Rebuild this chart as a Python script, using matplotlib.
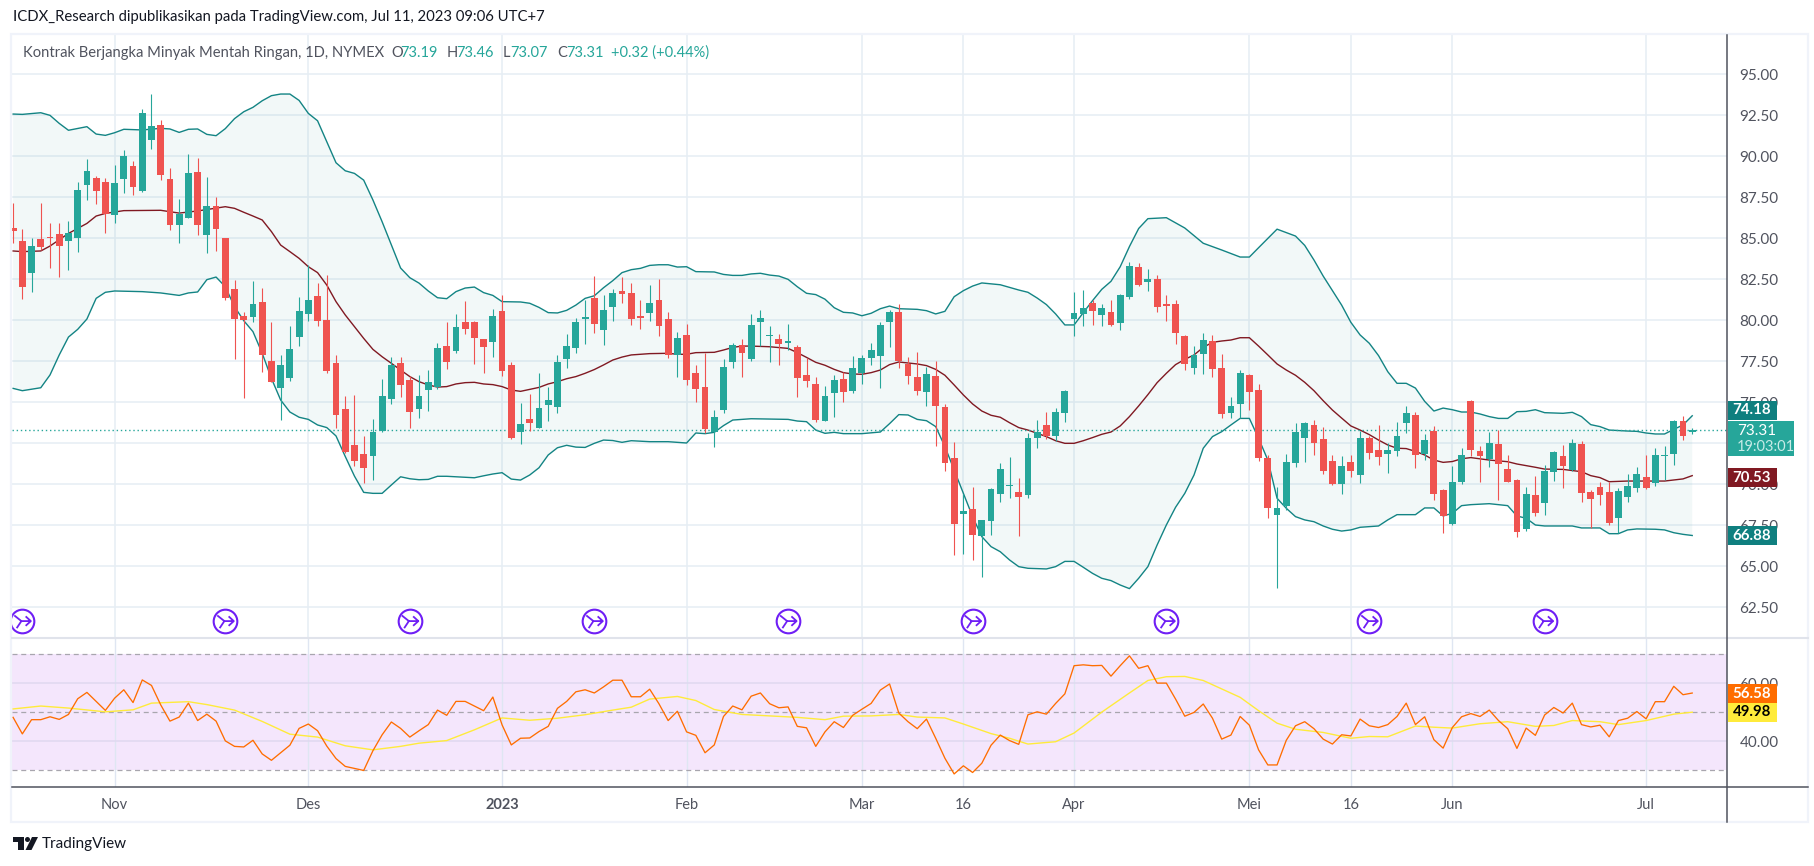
import matplotlib
matplotlib.use('Agg')
import matplotlib.pyplot as plt
from matplotlib.patches import Rectangle, Polygon, Circle
from matplotlib.path import Path
import numpy as np

plt.rcParams['font.family'] = ['Lato', 'DejaVu Sans']

# daily candles, one row per bar: open, high, low, close
ohlc_rows = [
    [85.63, 87.13, 84.70, 85.47], [84.84, 85.55, 81.32, 82.05], [82.91, 85.00, 81.75, 84.53], [84.96, 87.13, 84.30, 84.47],
    [85.08, 85.91, 83.21, 85.04], [85.26, 85.91, 82.66, 84.55], [84.84, 86.06, 83.07, 85.33], [85.02, 88.43, 84.17, 87.95],
    [88.25, 89.84, 87.34, 89.11], [88.68, 88.80, 87.09, 87.89], [88.43, 88.68, 85.33, 86.48], [86.42, 89.47, 85.93, 88.37],
    [88.62, 90.39, 87.76, 90.02], [89.41, 89.72, 87.64, 88.13], [87.89, 92.89, 87.83, 92.64], [91.00, 93.80, 90.45, 91.85],
    [91.91, 92.22, 88.56, 88.86], [88.62, 89.29, 85.51, 85.81], [85.81, 87.40, 84.72, 86.48], [86.24, 90.14, 86.24, 88.98],
    [89.04, 89.90, 85.20, 85.81], [85.20, 88.74, 84.11, 86.97], [86.97, 87.52, 84.23, 85.57], [85.02, 85.02, 81.24, 81.36],
    [81.91, 82.46, 77.64, 80.08], [80.26, 80.51, 75.26, 80.02], [80.20, 82.40, 79.90, 81.00], [81.12, 81.97, 76.85, 77.89],
    [77.52, 79.90, 76.24, 76.24], [75.87, 77.89, 73.92, 77.28], [76.48, 79.65, 76.30, 78.25], [78.98, 81.42, 78.43, 80.57],
    [80.39, 83.37, 79.96, 81.24], [81.48, 82.28, 79.65, 79.96], [80.02, 82.76, 76.79, 76.91], [77.40, 77.89, 73.43, 74.23],
    [74.59, 75.39, 71.90, 71.97], [72.40, 75.45, 71.12, 71.42], [71.85, 72.95, 70.10, 71.00], [71.74, 73.98, 70.26, 73.19],
    [73.25, 76.42, 73.20, 75.39], [75.20, 77.76, 74.90, 77.28], [77.40, 77.76, 75.33, 76.06], [76.36, 76.61, 73.43, 74.41],
    [74.59, 76.67, 74.04, 75.39], [75.75, 76.97, 74.47, 76.24], [75.93, 78.62, 75.81, 78.31], [78.43, 79.90, 77.03, 77.46],
    [78.13, 80.39, 78.01, 79.59], [79.90, 81.18, 79.17, 79.47], [79.90, 79.96, 77.34, 78.92], [78.86, 78.86, 76.79, 78.37],
    [78.68, 80.69, 77.76, 80.26], [80.57, 81.54, 76.61, 76.91], [77.28, 77.46, 72.76, 72.83], [73.19, 74.96, 72.46, 73.68],
    [73.98, 75.51, 73.25, 73.74], [73.43, 76.79, 73.43, 74.65], [74.84, 75.93, 73.86, 75.14], [74.72, 77.89, 74.35, 77.46],
    [77.64, 79.17, 77.09, 78.43], [78.31, 80.14, 78.01, 79.90], [80.08, 81.24, 78.56, 80.20], [81.36, 82.70, 79.23, 79.78],
    [79.41, 81.54, 78.50, 80.63], [80.81, 81.91, 79.96, 81.67], [81.79, 82.64, 81.06, 81.61], [81.67, 82.28, 79.72, 80.08],
    [80.26, 81.24, 79.47, 80.14], [80.45, 82.15, 79.96, 81.06], [81.24, 82.52, 79.04, 79.65], [80.08, 80.51, 77.70, 77.89],
    [77.89, 79.29, 76.54, 78.92], [79.11, 79.78, 76.06, 76.36], [76.79, 77.28, 75.02, 75.81], [75.93, 78.01, 73.11, 73.37],
    [73.19, 74.53, 72.28, 74.11], [74.53, 77.64, 74.35, 77.15], [77.46, 78.62, 77.09, 78.50], [78.50, 78.86, 76.54, 78.01],
    [77.64, 80.39, 77.52, 79.72], [79.90, 80.63, 78.43, 80.14], [79.04, 79.65, 77.46, 79.11], [78.86, 79.17, 77.28, 78.56],
    [78.62, 79.78, 78.19, 78.74], [78.37, 78.50, 75.33, 76.48], [76.67, 77.70, 75.93, 76.30], [76.12, 76.54, 73.80, 73.92],
    [73.86, 76.00, 73.86, 75.39], [75.57, 76.67, 74.11, 76.36], [76.42, 76.85, 75.02, 75.63], [75.69, 77.83, 75.57, 77.09],
    [76.79, 77.89, 76.12, 77.70], [77.70, 78.62, 77.28, 78.19], [77.83, 79.90, 75.87, 79.72], [79.90, 80.63, 78.37, 80.51],
    [80.51, 81.00, 77.09, 77.52], [77.34, 77.76, 76.12, 76.61], [76.54, 78.07, 75.45, 75.69], [75.63, 77.15, 74.78, 76.73],
    [76.61, 77.52, 72.34, 74.78], [74.72, 74.90, 70.81, 71.30], [71.61, 72.58, 65.69, 67.58], [68.19, 69.41, 65.75, 68.37],
    [68.50, 69.84, 65.39, 66.91], [66.85, 67.83, 64.35, 67.83], [67.76, 69.78, 66.91, 69.72], [69.41, 71.30, 68.92, 70.93],
    [69.90, 71.67, 69.17, 69.96], [69.53, 70.39, 66.85, 69.23], [69.35, 73.13, 69.17, 72.83], [72.83, 73.92, 72.22, 73.19],
    [73.62, 74.41, 72.76, 72.95], [72.95, 74.65, 72.64, 74.41], [74.35, 75.75, 73.80, 75.69], [80.08, 81.73, 79.04, 80.45],
    [80.39, 81.85, 79.65, 80.75], [81.06, 81.24, 79.72, 80.57], [80.33, 81.00, 79.65, 80.75], [80.51, 81.24, 79.65, 79.72],
    [79.84, 81.61, 79.41, 81.54], [81.42, 83.56, 81.30, 83.31], [83.25, 83.50, 82.10, 82.15], [82.34, 83.13, 81.79, 82.52],
    [82.52, 82.76, 80.51, 80.81], [81.00, 81.54, 79.96, 80.87], [81.00, 81.24, 78.56, 79.23], [79.04, 79.11, 76.97, 77.34],
    [77.09, 78.43, 76.73, 77.89], [77.95, 79.23, 76.73, 78.80], [78.74, 79.11, 76.54, 77.03], [77.09, 77.95, 74.04, 74.29],
    [74.35, 75.33, 74.04, 74.78], [74.90, 76.97, 74.04, 76.79], [76.67, 76.73, 74.53, 75.63], [75.75, 76.12, 71.42, 71.61],
    [71.61, 71.79, 67.95, 68.56], [68.13, 69.84, 63.68, 68.56], [68.68, 71.85, 68.43, 71.36], [71.30, 73.74, 71.06, 73.19],
    [72.83, 73.80, 71.36, 73.74], [73.62, 73.92, 71.79, 72.52], [72.76, 73.50, 70.63, 70.81], [71.42, 71.79, 69.96, 70.02],
    [70.02, 71.73, 69.41, 71.12], [71.36, 71.79, 70.45, 70.81], [70.57, 73.25, 70.08, 72.83], [72.83, 72.95, 71.54, 71.91],
    [72.09, 73.62, 71.18, 71.67], [71.85, 72.52, 70.69, 72.09], [72.03, 73.80, 71.73, 72.95], [73.74, 74.78, 73.13, 74.35],
    [74.23, 74.41, 71.00, 71.79], [71.85, 73.07, 71.48, 72.70], [73.25, 73.56, 69.04, 69.41], [69.65, 69.72, 67.03, 68.07],
    [67.58, 71.12, 67.52, 70.14], [70.14, 72.22, 70.02, 71.79], [75.08, 75.15, 71.73, 72.09], [72.03, 72.34, 70.14, 71.73],
    [71.54, 73.19, 71.06, 72.52], [72.46, 73.31, 69.04, 71.24], [70.93, 71.79, 70.14, 70.14], [70.26, 70.33, 66.79, 67.09],
    [67.28, 69.84, 67.15, 69.41], [69.35, 70.51, 68.07, 68.25], [68.86, 71.18, 68.13, 70.81], [70.75, 72.03, 70.20, 71.97],
    [71.73, 72.40, 69.78, 71.12], [70.87, 72.76, 70.81, 72.52], [72.46, 72.64, 68.92, 69.47], [69.53, 69.65, 67.34, 69.11],
    [69.84, 70.14, 68.74, 69.35], [69.53, 70.14, 67.52, 67.64], [67.95, 69.78, 67.03, 69.59], [69.23, 70.63, 68.92, 69.90],
    [69.78, 71.06, 69.53, 70.63], [70.45, 71.79, 69.72, 69.78], [70.08, 72.22, 69.90, 71.79], [71.73, 72.34, 70.26, 71.79],
    [71.85, 73.92, 71.18, 73.86], [73.86, 74.17, 72.70, 72.95], [73.19, 73.46, 73.07, 73.31],
]

# bollinger upper band
upper_idx = [0, 1, 3, 4, 5, 6, 8, 9, 10, 11, 12, 14, 16, 17, 18, 19, 20, 21, 22, 23, 24, 25, 26, 27, 28, 29, 30, 31, 32, 33, 35, 36,
             37, 38, 39, 40, 42, 43, 44, 45, 46, 47, 48, 49, 50, 51, 52, 53, 55, 56, 57, 58, 59, 60, 61, 62, 63, 64, 65, 66, 67,
             68, 69, 70, 71, 72, 73, 74, 76, 77, 78, 79, 80, 81, 82, 83, 84, 85, 86, 87, 88, 89, 90, 91, 92, 93, 94, 95, 96, 98,
             99, 100, 101, 102, 103, 104, 105, 107, 108, 109, 110, 111, 112, 113, 114, 115, 116, 117, 118, 119, 120, 121, 122,
             123, 125, 127, 129, 131, 133, 134, 135, 137, 139, 140, 141, 142, 143, 144, 145, 146, 147, 148, 149, 150, 151, 152,
             153, 154, 155, 156, 157, 158, 159, 160, 161, 162, 163, 164, 165, 166, 168, 169, 170, 171, 172, 173, 175, 176, 177,
             178, 179, 180, 181, 182]
upper_vals = [92.58, 92.56, 92.66, 92.50, 92.01, 91.59, 91.81, 91.36, 91.28, 91.44, 91.65, 91.61, 91.71, 91.67, 91.46, 91.65, 91.67,
              91.34, 91.26, 91.69, 92.30, 92.72, 92.99, 93.39, 93.70, 93.80, 93.80, 93.41, 92.62, 92.17, 89.61, 89.12,
              88.96, 88.55, 87.34, 86.01, 83.19, 82.60, 82.27, 81.79, 81.38, 81.32, 81.75, 81.97, 82.03, 81.69, 81.52, 81.14,
              81.12, 81.04, 80.79, 80.47, 80.45, 80.61, 80.93, 81.34, 81.50, 81.99, 82.42, 82.91, 83.09,
              83.17, 83.35, 83.39, 83.39, 83.25, 83.27, 82.97, 82.95, 82.80, 82.74, 82.74, 82.83, 82.87, 82.76, 82.70, 82.50,
              82.05, 81.65, 81.57, 81.29, 80.77, 80.49, 80.45, 80.28, 80.43, 80.71, 80.87, 80.71, 80.67,
              80.59, 80.39, 80.55, 81.44, 81.81, 82.09, 82.28, 82.17, 82.01, 81.85, 81.71, 81.36, 80.96, 80.39, 79.72, 79.72,
              80.47, 81.20, 81.89, 82.38, 83.27, 84.50, 85.60,
              86.20, 86.26, 85.63, 84.70, 84.29, 83.86, 83.86, 84.43, 85.56, 85.14, 84.57, 83.68, 82.70, 81.81, 80.93, 79.88,
              79.11, 78.60, 77.85, 76.87, 76.16, 76.16, 75.87,
              75.06, 74.47, 74.65, 74.55, 74.41, 74.41, 74.29, 74.13, 74.02, 74.02, 74.43, 74.45, 74.55, 74.37, 74.33, 74.39,
              74.13, 73.64, 73.52, 73.31, 73.25, 73.23, 73.13,
              73.07, 73.07, 73.35, 73.62, 74.18]

# bollinger lower band
lower_idx = [0, 1, 3, 4, 5, 6, 7, 8, 9, 10, 11, 14, 16, 18, 19, 20, 21, 22, 23, 24, 25, 26, 27, 28, 29, 30, 31, 32, 33, 34, 35, 36,
             37, 38, 39, 40, 41, 42, 43, 44, 45, 46, 47, 50, 51, 52, 53, 54, 55, 56, 57, 58, 59, 60, 61, 62, 63, 64, 65, 66, 67,
             69, 71, 73, 74, 75, 76, 77, 78, 80, 82, 84, 85, 86, 87, 88, 89, 90, 92, 94, 95, 96, 97, 98, 99, 100, 101, 102, 103,
             104, 105, 106, 107, 108, 109, 110, 112, 113, 114, 115, 116, 117, 118, 119, 120, 121, 122, 123, 124, 125, 126, 127,
             128, 129, 130, 131, 132, 133, 134, 135, 136, 137, 138, 139, 140, 141, 142, 143, 144, 145, 146, 148, 149, 150, 152,
             153, 154, 155, 156, 157, 158, 160, 162, 163, 164, 165, 166, 169, 170, 172, 173, 174, 175, 176, 178, 179, 180, 181, 182]
lower_vals = [75.85, 75.71, 75.89, 76.67, 77.89, 78.98, 79.45, 80.08, 81.34, 81.71, 81.79, 81.75, 81.67, 81.52, 81.67, 81.73, 82.48,
              82.64, 82.05, 80.83, 79.98, 79.31, 77.99, 76.46, 75.14, 74.41, 74.09, 73.96, 73.62, 73.46, 72.95, 71.70,
              70.50, 69.51, 69.45, 69.45, 69.96, 70.46, 70.34, 70.28, 70.30, 70.49, 70.49, 70.40, 70.52, 70.63, 70.71, 70.32,
              70.26, 70.57, 71.01, 71.79, 72.23, 72.38, 72.27, 72.25, 72.50, 72.70, 72.67, 72.56, 72.66,
              72.60, 72.60, 72.52, 73.13, 73.09, 73.17, 73.58, 73.92, 74.00, 73.98, 73.96, 73.86, 73.82, 73.31, 73.11, 73.17,
              73.09, 73.09, 73.19, 73.70, 74.25, 74.23, 73.96, 73.88, 73.52, 72.30, 70.87, 69.45,
              68.03, 66.81, 66.20, 65.89, 65.39, 64.98, 64.88, 64.84, 64.98, 65.30, 65.30, 64.94, 64.57, 64.27, 64.13, 63.86,
              63.64, 64.27, 64.98, 66.30, 67.52, 68.60, 69.45,
              70.57, 72.20, 72.91, 73.21, 73.62, 74.02, 74.02, 72.80, 71.48, 69.15, 68.54, 68.03, 67.83, 67.72, 67.46, 67.26,
              67.15, 67.22, 67.38, 67.46, 67.83, 68.15, 68.15,
              68.56, 68.56, 68.07, 68.23, 68.70, 68.76, 68.82, 68.70, 68.07, 67.93, 67.52, 67.46, 67.46, 67.34, 67.34, 66.99,
              66.99, 67.22, 67.28, 67.26, 67.22, 67.05, 66.95, 66.88]

# bollinger basis
basis_idx = [0, 1, 3, 4, 6, 8, 9, 10, 12, 16, 18, 20, 23, 24, 25, 26, 27, 28, 29, 30, 31, 32, 33, 34, 35, 36, 37, 38, 39, 40, 41, 42,
             43, 44, 45, 46, 47, 48, 49, 50, 51, 52, 53, 54, 55, 56, 57, 58, 59, 60, 61, 62, 63, 64, 65, 66, 67, 68, 69, 71, 72,
             73, 74, 76, 77, 78, 79, 80, 82, 84, 85, 86, 87, 88, 89, 90, 91, 92, 93, 94, 95, 96, 98, 99, 100, 101, 102, 103, 104,
             105, 106, 107, 108, 109, 110, 111, 112, 113, 114, 115, 116, 117, 118, 119, 120, 121, 122, 123, 124, 125, 126, 127,
             128, 129, 130, 131, 132, 133, 134, 135, 136, 137, 138, 139, 140, 141, 142, 143, 144, 145, 146, 147, 148, 149, 150,
             151, 152, 153, 154, 155, 156, 157, 158, 160, 162, 163, 165, 166, 168, 170, 171, 172, 173, 175, 177, 179, 181, 182]
basis_vals = [84.23, 84.19, 84.23, 84.53, 85.30, 85.91, 86.36, 86.52, 86.69, 86.71, 86.54, 86.67, 86.93, 86.83, 86.59, 86.36, 86.12,
              85.41, 84.59, 84.19, 83.78, 83.27, 82.91, 82.15, 81.14, 80.33, 79.61, 78.90, 78.23, 77.78, 77.38, 76.97,
              76.57, 76.26, 76.06, 75.93, 75.96, 76.12, 76.20, 76.22, 76.12, 76.08, 75.96, 75.75, 75.67, 75.79, 75.91, 76.12,
              76.26, 76.44, 76.57, 76.77, 77.00, 77.28, 77.58, 77.76, 77.89, 77.93, 77.97, 77.99, 77.93,
              77.93, 78.03, 78.05, 78.19, 78.35, 78.43, 78.43, 78.39, 78.29, 78.03, 77.74, 77.44, 77.26, 77.01, 76.81, 76.73,
              76.71, 76.81, 76.97, 77.30, 77.46, 77.34, 77.24, 77.01, 76.65, 76.06, 75.45, 74.90,
              74.47, 74.21, 74.09, 73.76, 73.46, 73.31, 73.11, 72.91, 72.66, 72.50, 72.50, 72.66, 72.85, 73.05, 73.19, 73.56,
              74.13, 74.78, 75.47, 76.20, 76.77, 77.30, 77.62,
              77.89, 78.35, 78.66, 78.74, 78.80, 78.94, 78.94, 78.43, 77.89, 77.34, 76.97, 76.65, 76.22, 75.71, 75.10, 74.53,
              74.04, 73.56, 73.31, 73.03, 72.70, 72.40, 72.20,
              72.18, 72.01, 71.79, 71.48, 71.34, 71.39, 71.56, 71.63, 71.48, 71.38, 71.24, 71.04, 70.93, 70.91, 70.77, 70.53,
              70.41, 70.16, 70.20, 70.20, 70.20, 70.33, 70.53]

# RSI, one value per bar
rsi_vals = [48.2, 42.5, 47.4, 47.4, 48.4, 47.5, 49.2, 54.6, 56.8, 53.7, 50.6, 54.8, 57.7, 53.3, 61.1, 59.2, 52.5, 46.9, 48.3, 53.1,
            47.1, 49.3, 46.9, 40.1, 38.2, 38.0, 40.3, 35.6, 33.4, 36.0, 38.6, 44.4, 45.9, 43.6, 38.3, 34.0, 31.3, 30.6, 29.9, 36.7,
            42.2, 46.6, 44.4, 41.4, 43.6, 45.7, 50.7, 48.9, 53.7, 53.7, 52.1, 50.5, 55.2, 45.6, 38.7, 41.0, 41.1, 43.3, 45.1, 51.3,
            53.7, 57.0, 57.7, 56.6, 58.7, 61.0, 61.0, 55.3, 55.3, 57.9, 52.9, 47.1, 50.3, 43.2, 42.0, 36.0, 38.7, 48.5, 52.1, 50.8,
            55.5, 56.6, 52.9, 51.5, 51.8, 45.1, 44.6, 38.2, 43.2, 46.7, 44.7, 48.9, 51.0, 53.0, 57.6, 59.7, 49.7, 46.7, 44.3, 47.6,
            41.0, 34.1, 28.7, 31.5, 29.2, 32.4, 38.6, 42.1, 40.2, 38.9, 49.1, 50.1, 49.3, 53.0, 56.3, 66.0, 66.3, 66.0, 66.1, 62.4,
            66.0, 69.4, 65.1, 66.0, 60.0, 60.0, 54.5, 48.6, 49.9, 52.8, 47.9, 40.7, 42.1, 48.5, 45.5, 37.0, 31.8, 31.8, 40.3, 45.3,
            46.7, 44.3, 40.7, 39.0, 42.2, 41.8, 47.6, 45.3, 44.7, 45.7, 48.5, 53.1, 45.7, 48.4, 40.5, 37.6, 44.7, 48.4, 49.5, 48.5,
            50.7, 47.1, 44.3, 37.5, 44.5, 42.0, 49.0, 51.6, 49.7, 53.1, 45.7, 44.9, 45.5, 41.5, 47.1, 47.9, 50.2, 47.7, 53.6, 53.6,
            58.9, 56.0, 56.58]

# RSI moving average
rsi_ma_idx = [0, 3, 6, 10, 13, 15, 19, 21, 24, 27, 30, 33, 36, 39, 42, 44, 47, 50, 53, 56, 59, 62, 65, 67, 69, 72, 74, 76, 79, 82, 85,
              88, 90, 93, 96, 98, 101, 103, 106, 108, 110, 113, 115, 118, 121, 123, 125, 127, 129, 131, 133, 135, 137, 139, 142,
              145, 147, 149, 152, 154, 156, 159, 162, 165, 167, 169, 172, 174, 177, 180, 182]
rsi_ma_vals = [51.1, 52.1, 51.4, 50.1, 50.8, 53.1, 53.6, 52.6, 50.7, 46.8, 42.4, 41.4, 38.4, 37.0, 38.2, 39.3, 40.2, 43.9, 48.0, 47.2,
               47.9, 49.1, 50.7, 51.7, 54.5, 55.4, 54.0, 50.9, 49.2, 48.7, 48.2, 47.4, 48.6, 48.7, 49.2, 48.3, 48.0, 45.9, 42.6, 41.0,
               39.0, 39.8, 42.8, 50.0, 56.6, 60.9, 62.2, 62.3, 60.9, 58.0, 55.1, 50.5, 46.2, 44.1, 43.0, 41.0, 41.6, 41.5, 45.2, 44.8,
               44.5, 46.0, 46.7, 45.1, 45.4, 47.1, 46.7, 45.7, 47.1, 49.3, 49.98]

time_ticks = [11, 32, 53, 73, 92, 103, 115, 134, 145, 156, 177]
time_labels = ['Nov', 'Des', '2023', 'Feb', 'Mar', '16', 'Apr', 'Mei', '16', 'Jun', 'Jul']
price_ticks = [62.5, 65, 67.5, 70, 72.5, 75, 77.5, 80, 82.5, 85, 87.5, 90, 92.5, 95]
event_bars = [1, 23, 43, 63, 84, 104, 125, 147, 166]

W, H = 1815, 866
GREEN, RED = '#26a69a', '#ef5350'
BAND = '#138484'
TEXT = '#50535e'
GRID = '#e6eef4'
BORDER = '#f0f3fa'

def rect(x0, y0, x1, y1):
    return [x0 / W, 1 - y1 / H, (x1 - x0) / W, (y1 - y0) / H]

fig = plt.figure(figsize=(W / 100, H / 100), dpi=100, facecolor='white')
ax = fig.add_axes(rect(12, 35, 1727, 637))
ax2 = fig.add_axes(rect(12, 639, 1727, 787))
over = fig.add_axes([0, 0, 1, 1], zorder=10)
over.set_xlim(0, W)
over.set_ylim(H, 0)
over.axis('off')
over.patch.set_alpha(0)

ohlc = np.array(ohlc_rows)
opens, highs, lows, closes = ohlc.T
bars = np.arange(len(ohlc))
colors = [GREEN if c >= o else RED for o, c in zip(opens, closes)]

# main pane
ax.set_xlim(-0.12, 185.77)
ax.set_ylim(60.69, 97.40)
ax.set_yticks(price_ticks)
ax.set_yticklabels([f'{p:.2f}' for p in price_ticks])
ax.grid(True, color=GRID, lw=1.1)
ax.set_axisbelow(True)
ax.set_xticks(time_ticks)
ax.tick_params(axis='x', length=0, labelbottom=False)
ax.tick_params(axis='y', length=0, right=False, left=False, labelleft=False, labelright=True,
               labelsize=11, labelcolor=TEXT, pad=9)

band_x = np.concatenate([upper_idx, lower_idx[::-1]])
band_y = np.concatenate([upper_vals, lower_vals[::-1]])
ax.fill(band_x, band_y, color=BAND, alpha=0.05, lw=0, zorder=1.5)
ax.plot(upper_idx, upper_vals, color=BAND, lw=1.0, zorder=2)
ax.plot(lower_idx, lower_vals, color=BAND, lw=1.0, zorder=2)
ax.plot(basis_idx, basis_vals, color='#801922', lw=1.0, zorder=2)
ax.axhline(closes[-1], color=GREEN, lw=1, ls=(0, (1, 2)), zorder=2.2)

ax.vlines(bars, lows, highs, colors=colors, lw=0.8, zorder=3)
body = np.maximum(np.abs(closes - opens), 0.04)
ax.bar(bars, body, bottom=np.minimum(opens, closes), width=0.74, color=colors, lw=0, zorder=3.1)

# rollover icons along the bottom of the pane
arrow = Path([(-0.85, 0.6), (-0.1, 0.0), (-0.6, -0.75), (-0.1, 0.0), (0.9, 0.0), (0.35, 0.5), (0.9, 0.0), (0.35, -0.5)],
             [Path.MOVETO, Path.LINETO, Path.MOVETO, Path.LINETO, Path.LINETO, Path.MOVETO, Path.LINETO, Path.LINETO])
ev_y = [61.66] * len(event_bars)
ax.scatter(event_bars, ev_y, s=290, facecolor='white', edgecolor='#6f1ff5', lw=1.5, zorder=4)
ax.scatter(event_bars, ev_y, s=150, marker=arrow, facecolor='none', edgecolor='#6f1ff5', lw=1.3, zorder=4.1)

# RSI pane
ax2.set_xlim(-0.12, 185.77)
ax2.set_ylim(24.2, 75.2)
ax2.axhspan(30, 70, color='#f4e6fc', lw=0, zorder=0)
ax2.set_yticks([40, 60])
ax2.set_yticklabels(['40.00', '60.00'])
ax2.grid(True, axis='y', color='#e0d8f0', lw=1.1)
ax2.grid(True, axis='x', color='#dfe6f2', lw=1)
ax2.set_axisbelow(True)
for lev in (30, 50, 70):
    ax2.axhline(lev, color='#a8a6ae', lw=0.9, ls=(0, (4, 3)), zorder=1)
ax2.plot(rsi_ma_idx, rsi_ma_vals, color='#ffeb3b', lw=1.0, zorder=2)
ax2.plot(bars, rsi_vals, color='#ff6d00', lw=0.95, zorder=3)
ax2.set_xticks(time_ticks)
ax2.set_xticklabels(time_labels)
ax2.get_xticklabels()[2].set_fontweight('bold')
ax2.tick_params(axis='x', length=0, labelsize=10.5, labelcolor=TEXT, pad=8)
ax2.tick_params(axis='y', length=0, right=False, left=False, labelleft=False, labelright=True,
                labelsize=11, labelcolor=TEXT, pad=9)
for a in (ax, ax2):
    for s in a.spines.values():
        s.set_visible(False)

# frame and separators
over.add_patch(Rectangle((11, 34), 1797, 788, fill=False, ec=BORDER, lw=1.6))
over.plot([12, 1808], [638, 638], color='#e0e3eb', lw=1.5)
over.plot([12, 1808], [787, 787], color=TEXT, lw=1.1)
over.plot([1727, 1727], [35, 822], color=TEXT, lw=1.1)

# header and legend
over.text(13, 17, 'ICDX_Research dipublikasikan pada TradingView.com, Jul 11, 2023 09:06 UTC+7',
          fontsize=10.7, color='#131722', va='center')
over.text(23, 53, 'Kontrak Berjangka Minyak Mentah Ringan, 1D, NYMEX', fontsize=10.6, color=TEXT, va='center')
for x, s, c in [(391, 'O', TEXT), (400, '73.19', GREEN), (447, 'H', TEXT), (456, '73.46', GREEN), (503, 'L', TEXT),
                (510, '73.07', GREEN), (557, 'C', TEXT), (566, '73.31', GREEN), (611, '+0.32 (+0.44%)', GREEN)]:
    over.text(x, 53, s, fontsize=10.5, color=c, va='center')

# last value boxes on the price scale
boxes = [(401, 420, 1777, '#0f7f7f', '74.18', 'white'), (468, 487, 1777, '#801922', '70.53', 'white'),
         (526, 545, 1777, '#0f7f7f', '66.88', 'white'), (684, 703, 1777, '#ff6d00', '56.58', 'white'),
         (703, 722, 1777, '#ffeb3b', '49.98', 'black')]
for y0, y1, x1, c, s, tc in boxes:
    over.add_patch(Rectangle((1728, y0), x1 - 1728, y1 - y0, fc=c, ec='none'))
    over.text(1752, (y0 + y1) / 2, s, color=tc, fontsize=10.8, fontweight='bold', ha='center', va='center')
over.add_patch(Rectangle((1728, 421), 66, 35, fc=GREEN, ec='none'))
over.text(1737, 431, '73.31', color='white', fontsize=11, va='center')
over.text(1737, 447, '19:03:01', color='#c8ebe7', fontsize=10.5, va='center')

# TradingView logo
over.add_patch(Polygon([(13, 837), (24, 837), (24, 850), (18, 850), (18, 842), (13, 842)], fc='#131722', ec='none'))
over.add_patch(Circle((27.5, 839.5), 2.5, fc='#131722', ec='none'))
over.add_patch(Polygon([(32, 837), (38, 837), (31.5, 850), (25.5, 850)], fc='#131722', ec='none'))
over.text(42, 844, 'TradingView', fontsize=11, color='#131722', va='center')

fig.savefig('out.png', dpi=100)
